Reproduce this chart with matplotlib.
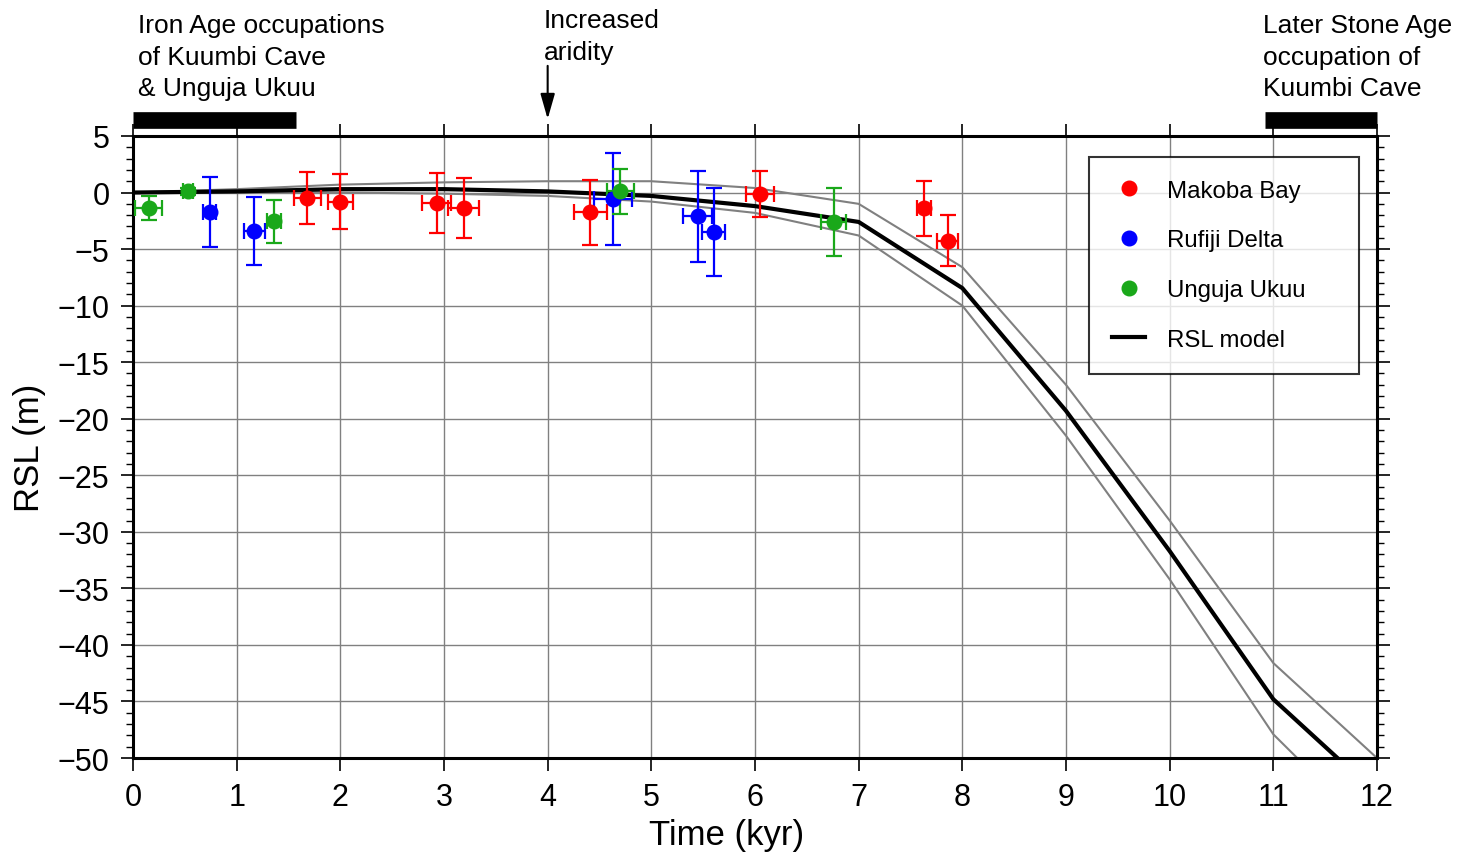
import matplotlib
matplotlib.use('Agg')
from matplotlib import pyplot as plt
from matplotlib.lines import Line2D
from matplotlib.ticker import MultipleLocator

plt.rcParams['font.family'] = ['Liberation Sans', 'DejaVu Sans']

# RSL model (kyr, m) with upper / lower bounds
model_t = [0, 1, 2, 3, 4, 5, 6, 7, 8, 9, 10, 11, 12]
model_rsl = [0, 0.1, 0.3, 0.3, 0.1, -0.3, -1.2, -2.6, -8.45, -19.3, -31.7, -44.8, -53.2]
upper_rsl = [0, 0.3, 0.7, 0.9, 1.0, 1.0, 0.4, -1.0, -6.6, -17.0, -29.0, -41.6, -50.0]
lower_rsl = [0, 0, 0, -0.1, -0.3, -0.8, -1.8, -3.8, -10.0, -21.5, -34.2, -47.9, -57.0]

# Makoba Bay
mak_t = [1.68, 2.0, 2.93, 3.19, 4.41, 6.05, 7.63, 7.86]
mak_rsl = [-0.49, -0.8, -0.93, -1.4, -1.75, -0.13, -1.4, -4.26]
mak_terr = [0.13, 0.12, 0.14, 0.15, 0.16, 0.135, 0.07, 0.1]
mak_rerr = [2.3, 2.4, 2.65, 2.65, 2.9, 2.0, 2.4, 2.27]

# Rufiji Delta
ruf_t = [0.74, 1.17, 4.63, 5.45, 5.6]
ruf_rsl = [-1.7, -3.43, -0.57, -2.1, -3.5]
ruf_terr = [0.06, 0.1, 0.18, 0.14, 0.11]
ruf_rerr = [3.1, 3.0, 4.1, 4.0, 3.9]

# Unguja Ukuu
ung_t = [0.15, 0.53, 1.36, 4.70, 6.76]
ung_rsl = [-1.37, 0.1, -2.55, 0.1, -2.64]
ung_terr = [0.13, 0.05, 0.07, 0.13, 0.12]
ung_rerr = [1.1, 0.3, 1.9, 2.0, 3.0]

red = '#ff0000'
blue = '#0000ff'
green = '#1aa81a'

fig = plt.figure(figsize=(14.68, 8.54), dpi=100)
ax = fig.add_axes([0.0906, 0.1112, 0.8474, 0.7284])

ax.plot(model_t, upper_rsl, color='#808080', lw=1.5, zorder=2)
ax.plot(model_t, lower_rsl, color='#808080', lw=1.5, zorder=2)
ax.plot(model_t, model_rsl, color='black', lw=3, zorder=3)

for t, r, te, re, c in [(mak_t, mak_rsl, mak_terr, mak_rerr, red),
                        (ruf_t, ruf_rsl, ruf_terr, ruf_rerr, blue),
                        (ung_t, ung_rsl, ung_terr, ung_rerr, green)]:
	ax.errorbar(t, r, xerr=te, yerr=re, fmt='o', color=c, ms=10.5,
				elinewidth=1.6, capsize=5.5, capthick=1.6, zorder=4)

ax.set_xlim(0, 12)
ax.set_ylim(-50, 5)
ax.xaxis.set_major_locator(MultipleLocator(1))
ax.yaxis.set_major_locator(MultipleLocator(5))
ax.yaxis.set_minor_locator(MultipleLocator(1))
ax.grid(True, which='major', color='#808080', lw=1)
ax.set_axisbelow(True)
ax.tick_params(axis='both', which='major', labelsize=22, length=9, width=1.2,
			   direction='out', top=True, right=True)
ax.tick_params(axis='y', which='minor', length=5, width=1, right=True)
ax.tick_params(axis='x', which='major', pad=8)
ax.tick_params(axis='y', which='major', pad=8)
for s in ax.spines.values():
	s.set_linewidth(2.2)

ax.set_xlabel('Time (kyr)', fontsize=25)
ax.xaxis.set_label_coords(0.477, -0.097)
ax.set_ylabel('RSL (m)', fontsize=25, labelpad=8)

handles = [Line2D([], [], ls='none', marker='o', color=red, ms=10.5),
		   Line2D([], [], ls='none', marker='o', color=blue, ms=10.5),
		   Line2D([], [], ls='none', marker='o', color=green, ms=10.5),
		   Line2D([], [], color='black', lw=3)]
labels = ['Makoba Bay', 'Rufiji Delta', 'Unguja Ukuu', 'RSL model']
leg = ax.legend(handles, labels, loc='upper left', bbox_to_anchor=(0.7685, 0.0, 0.217, 0.9662),
				mode='expand', fontsize=17.3, frameon=True, fancybox=False, edgecolor='black',
				borderpad=0.95, labelspacing=1.15, handlelength=1.4, handletextpad=0.9,
				borderaxespad=0)
leg.get_frame().set_linewidth(1.5)

# occupation bars and notes above the frame
ax.plot([0, 1.57], [6.4, 6.4], color='black', lw=12, solid_capstyle='butt', clip_on=False)
ax.plot([10.92, 12], [6.4, 6.4], color='black', lw=12, solid_capstyle='butt', clip_on=False)
ax.text(0.05, 8.2, 'Iron Age occupations\nof Kuumbi Cave\n& Unguja Ukuu', fontsize=19,
		va='bottom', ha='left', linespacing=1.38)
ax.text(3.96, 11.4, 'Increased\naridity', fontsize=19, va='bottom', ha='left', linespacing=1.38)
ax.annotate('', xy=(4, 6.5), xytext=(4, 11.2), annotation_clip=False,
			arrowprops=dict(arrowstyle='-|>,head_length=0.7,head_width=0.2', color='black',
							lw=1.5, mutation_scale=22, shrinkA=0, shrinkB=0))
ax.text(10.9, 8.2, 'Later Stone Age\noccupation of\nKuumbi Cave', fontsize=19,
		va='bottom', ha='left', linespacing=1.38)

plt.savefig('out.png', dpi=100)
